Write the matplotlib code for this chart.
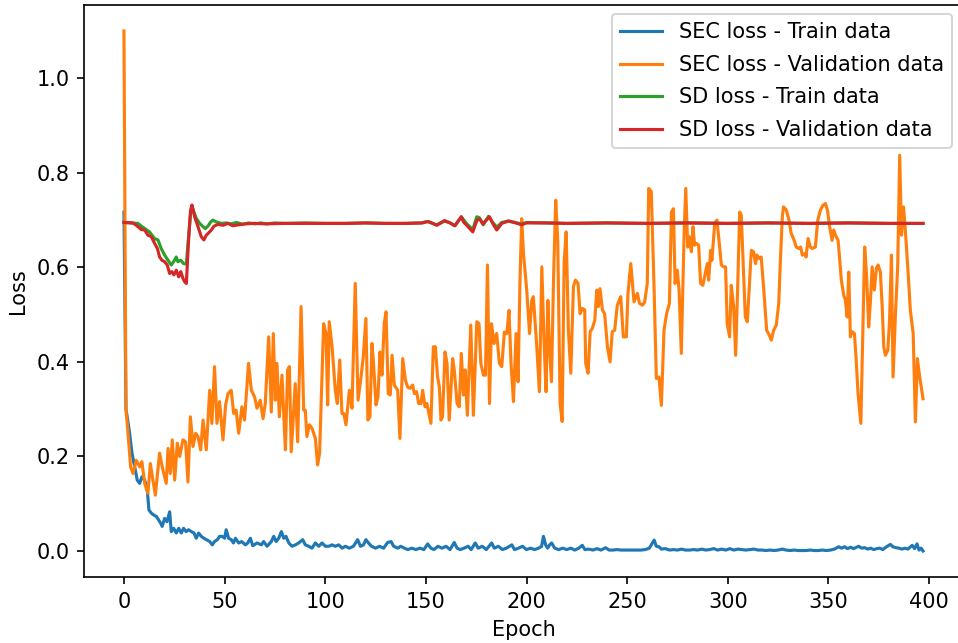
import matplotlib
matplotlib.use("Agg")
import matplotlib.pyplot as plt

# ---------------- data ----------------
sec_train_epoch = [0, 1.0, 1.6, 2.8, 4.0, 5.3, 6.6, 7.8, 8.9, 10.3, 11.6, 12.4, 13.6, 14.9, 16.1, 17.2, 18.2, 19.0,
    20.2, 21.4, 22.7, 23.5, 24.7, 26.0, 27.2, 28.5, 29.6, 30.9, 32.1, 33.5, 34.8, 35.9, 37.1, 38.4, 39.7, 40.9,
    42.6, 43.9, 45.0, 46.4, 47.5, 48.8, 50.0, 50.8, 52.0, 53.3, 54.4, 55.4, 57.0, 58.5, 60.3, 61.5, 62.8, 64.0,
    66.1, 68.3, 69.4, 71.1, 73.2, 74.4, 75.6, 76.9, 78.2, 79.4, 80.5, 81.9, 83.5, 85.2, 86.8, 88.8, 90.1, 91.8,
    93.4, 95.1, 96.8, 98.4, 100.1, 101.8, 103.4, 105.0, 106.7, 108.4, 110.0, 112, 114, 116.1, 117.5, 119, 120.2,
    121.5, 123, 125, 127, 129, 131, 132.7, 134, 136, 137.5, 139.3, 141, 143, 145, 147, 149, 150.9, 152.5, 154,
    156, 158, 160, 162, 164.1, 165.5, 167, 169, 171, 172.5, 174.5, 176, 178, 180, 182.7, 184, 186, 188, 190,
    192.7, 194, 196, 198, 200, 202, 204, 206, 207.5, 208.4, 209.5, 210.5, 211.5, 212.5, 214, 216, 218, 220,
    222, 224, 226, 227.7, 229, 231, 233, 235, 237, 239.3, 241, 243, 245, 247, 249, 251, 253, 255, 257, 259,
    261, 263.4, 264.5, 265.8, 267, 269, 271, 273, 275, 277, 279, 281, 283, 285, 287, 289, 291, 293, 295, 297,
    299, 301, 303, 305, 307, 309, 311, 313, 315, 317, 319, 321, 323, 325, 327, 329, 331, 333, 335, 337, 339,
    341, 343, 345, 347, 349, 351, 353, 355.1, 356.5, 358, 359.5, 361, 362.5, 364, 365, 366.5, 368, 369.5, 371,
    372.5, 374, 375.5, 377, 378.5, 380.8, 382, 383.5, 385, 386.5, 388, 389.5, 391.6, 392.8, 394, 395, 396, 397]
sec_train_loss = [0.717, 0.30, 0.284, 0.249, 0.207, 0.178, 0.150, 0.143, 0.157, 0.150, 0.129, 0.087, 0.080, 0.076,
    0.073, 0.066, 0.059, 0.052, 0.069, 0.062, 0.083, 0.041, 0.048, 0.038, 0.048, 0.038, 0.048, 0.041, 0.045,
    0.041, 0.038, 0.027, 0.038, 0.031, 0.027, 0.024, 0.020, 0.013, 0.020, 0.024, 0.031, 0.031, 0.027, 0.045,
    0.027, 0.024, 0.017, 0.027, 0.017, 0.020, 0.013, 0.017, 0.027, 0.011, 0.017, 0.013, 0.020, 0.010, 0.020,
    0.031, 0.020, 0.027, 0.041, 0.027, 0.031, 0.017, 0.010, 0.013, 0.017, 0.024, 0.013, 0.010, 0.006, 0.017,
    0.010, 0.017, 0.010, 0.010, 0.013, 0.010, 0.013, 0.006, 0.010, 0.006, 0.010, 0.024, 0.010, 0.013, 0.024,
    0.017, 0.010, 0.006, 0.010, 0.006, 0.018, 0.020, 0.010, 0.006, 0.010, 0.006, 0.003, 0.006, 0.003, 0.006,
    0.003, 0.015, 0.006, 0.003, 0.010, 0.006, 0.010, 0.003, 0.018, 0.006, 0.003, 0.006, 0.010, 0.003, 0.017,
    0.006, 0.010, 0.003, 0.017, 0.006, 0.010, 0.003, 0.006, 0.013, 0.003, 0.006, 0.010, 0.003, 0.006, 0.003,
    0.006, 0.010, 0.031, 0.013, 0.006, 0.013, 0.017, 0.006, 0.003, 0.006, 0.003, 0.006, 0.002, 0.006, 0.012,
    0.003, 0.004, 0.002, 0.005, 0.002, 0.007, 0.002, 0.002, 0.003, 0.002, 0.002, 0.002, 0.002, 0.002, 0.002,
    0.003, 0.006, 0.023, 0.010, 0.009, 0.004, 0.005, 0.002, 0.003, 0.002, 0.004, 0.002, 0.002, 0.003, 0.002,
    0.004, 0.002, 0.003, 0.005, 0.002, 0.004, 0.002, 0.005, 0.002, 0.004, 0.003, 0.002, 0.003, 0.004, 0.002,
    0.002, 0.001, 0.002, 0.001, 0.002, 0.004, 0.002, 0.001, 0.002, 0.001, 0.001, 0.001, 0.002, 0.001, 0.001,
    0.002, 0.001, 0.002, 0.004, 0.009, 0.006, 0.009, 0.005, 0.008, 0.005, 0.008, 0.010, 0.006, 0.007, 0.004,
    0.006, 0.003, 0.005, 0.006, 0.003, 0.008, 0.014, 0.009, 0.007, 0.006, 0.004, 0.006, 0.004, 0.012, 0.005,
    0.015, 0.002, 0.006, 0.000]

sec_val_epoch = [0, 1.0, 2.0, 3.3, 4.5, 6.1, 7.8, 8.9, 10.3, 11.9, 13.1, 14.4, 15.6, 17.7, 19.0, 21.0, 21.9, 23.0,
    24.0, 25.2, 26.5, 27.7, 29.3, 30.6, 31.8, 33.0, 34.3, 35.6, 36.8, 38.1, 39.3, 40.9, 42.6, 43.7, 45.0, 46.2,
    47.5, 49.2, 50.5, 51.7, 53.3, 54.5, 55.7, 57.0, 58.6, 59.9, 61.9, 63.3, 64.9, 66.1, 67.7, 69.1, 70.2, 71.9,
    73.2, 74.2, 75.2, 76.0, 77.2, 78.5, 80.2, 81.3, 82.2, 83.1, 85.1, 86.3, 88.0, 89.3, 90.1, 90.9, 92.1, 93.4,
    95.1, 96.2, 97.2, 99.2, 100.4, 101.2, 102.0, 103.4, 105.0, 106.0, 107.2, 108.3, 109.2, 110.3, 112.0, 113.3,
    114.9, 116.3, 117.8, 118.9, 120.2, 121.2, 122.2, 123.2, 124.0, 125.2, 126.2, 127.2, 128.2, 129.3, 130.2,
    131.3, 132.3, 133.2, 134.3, 136.0, 137.1, 138.5, 139.8, 140.9, 142.1, 143.4, 144.3, 145.4, 146.4, 147.6,
    148.4, 149.6, 150.5, 152.5, 153.7, 154.7, 155.8, 156.7, 157.5, 158.3, 159.5, 160.5, 161.6, 163.3, 164.1,
    165.5, 166.6, 167.6, 168.7, 169.5, 170.6, 172.3, 173.6, 175.3, 176.4, 177.3, 178.6, 179.6, 180.6, 181.6,
    182.6, 183.9, 185.2, 186.5, 187.7, 189.0, 190.2, 191.3, 192.3, 193.5, 194.8, 195.8, 196.8, 197.6, 198.5,
    200.1, 201.5, 202.6, 203.4, 205.1, 206.4, 207.6, 208.7, 209.7, 210.6, 211.4, 212.4, 213.4, 214.5, 215.5,
    216.7, 217.7, 218.7, 219.7, 220.8, 222.0, 223.3, 224.3, 225.6, 226.6, 227.7, 228.9, 229.4, 230.6, 231.6,
    232.7, 233.9, 234.9, 235.7, 236.5, 237.7, 238.8, 240.2, 241.5, 242.6, 243.8, 245.1, 246.8, 248.1, 249.6,
    250.4, 251.8, 253.4, 255.1, 256.1, 257.6, 258.7, 260.0, 260.7, 262.0, 263.4, 264.5, 265.8, 267.0, 268.3,
    269.6, 271.0, 272.0, 273.0, 273.8, 274.9, 275.8, 276.9, 278.3, 279.1, 280.1, 280.9, 281.9, 282.7, 283.5,
    284.3, 285.5, 286.5, 287.6, 288.8, 289.8, 290.5, 291.5, 292.1, 293.5, 294.6, 295.6, 296.8, 297.9, 298.9,
    299.7, 300.9, 301.7, 302.9, 303.9, 305.0, 305.9, 306.7, 307.5, 308.7, 309.7, 310.8, 311.7, 312.8, 313.8,
    314.5, 315.5, 316.6, 318.0, 319.3, 320.6, 321.6, 322.8, 324.1, 325.3, 326.2, 327.1, 327.7, 329.1, 330.4,
    331.5, 332.9, 334.0, 335.2, 336.2, 337.0, 338.2, 338.9, 339.9, 341.0, 341.9, 343.5, 344.7, 346.0, 347.2,
    348.5, 349.5, 350.5, 351.8, 352.6, 353.5, 354.8, 355.5, 356.4, 357.6, 358.4, 359.3, 360.1, 360.9, 361.7,
    362.9, 363.7, 364.7, 366.1, 367.0, 368.0, 368.9, 370.0, 370.9, 371.7, 372.8, 373.8, 374.7, 375.8, 376.7,
    377.5, 378.3, 379.5, 380.3, 381.3, 382.1, 383.3, 384.4, 385.4, 386.3, 387.3, 388.2, 389.6, 390.7, 392.1,
    393.2, 394.2, 395.2, 396.2, 397]
sec_val_loss = [1.10, 0.30, 0.25, 0.178, 0.164, 0.192, 0.178, 0.189, 0.143, 0.122, 0.185, 0.150, 0.118, 0.207,
    0.178, 0.143, 0.217, 0.164, 0.235, 0.150, 0.228, 0.200, 0.235, 0.231, 0.146, 0.284, 0.221, 0.249, 0.242,
    0.214, 0.277, 0.214, 0.340, 0.270, 0.390, 0.270, 0.316, 0.235, 0.309, 0.333, 0.340, 0.291, 0.298, 0.249,
    0.305, 0.277, 0.397, 0.340, 0.326, 0.302, 0.319, 0.280, 0.312, 0.453, 0.294, 0.460, 0.319, 0.397, 0.284,
    0.372, 0.214, 0.383, 0.390, 0.210, 0.354, 0.231, 0.517, 0.298, 0.298, 0.242, 0.267, 0.260, 0.238, 0.182,
    0.207, 0.481, 0.460, 0.309, 0.485, 0.432, 0.340, 0.312, 0.404, 0.291, 0.291, 0.267, 0.340, 0.302, 0.566,
    0.319, 0.369, 0.411, 0.492, 0.277, 0.284, 0.439, 0.397, 0.309, 0.326, 0.421, 0.372, 0.481, 0.506, 0.333,
    0.330, 0.414, 0.351, 0.340, 0.238, 0.407, 0.362, 0.347, 0.344, 0.351, 0.333, 0.337, 0.312, 0.312, 0.340,
    0.305, 0.312, 0.270, 0.432, 0.432, 0.369, 0.347, 0.277, 0.284, 0.421, 0.397, 0.277, 0.407, 0.383, 0.312,
    0.305, 0.418, 0.330, 0.383, 0.287, 0.478, 0.287, 0.485, 0.481, 0.397, 0.372, 0.372, 0.605, 0.312, 0.481,
    0.439, 0.460, 0.397, 0.390, 0.463, 0.460, 0.509, 0.397, 0.316, 0.460, 0.358, 0.580, 0.703, 0.629, 0.552,
    0.460, 0.530, 0.538, 0.432, 0.337, 0.601, 0.446, 0.337, 0.530, 0.432, 0.358, 0.573, 0.742, 0.658, 0.312,
    0.274, 0.612, 0.675, 0.467, 0.376, 0.559, 0.573, 0.566, 0.502, 0.513, 0.510, 0.397, 0.376, 0.464, 0.471,
    0.488, 0.552, 0.517, 0.555, 0.510, 0.502, 0.432, 0.400, 0.464, 0.467, 0.520, 0.538, 0.453, 0.453, 0.545,
    0.608, 0.527, 0.545, 0.524, 0.520, 0.527, 0.566, 0.767, 0.760, 0.552, 0.365, 0.368, 0.308, 0.467, 0.502,
    0.524, 0.717, 0.724, 0.566, 0.594, 0.552, 0.418, 0.672, 0.767, 0.643, 0.665, 0.633, 0.686, 0.647, 0.651,
    0.647, 0.566, 0.562, 0.587, 0.608, 0.573, 0.636, 0.615, 0.693, 0.700, 0.658, 0.605, 0.601, 0.601, 0.481,
    0.453, 0.562, 0.517, 0.414, 0.573, 0.717, 0.710, 0.622, 0.495, 0.485, 0.566, 0.636, 0.633, 0.608, 0.626,
    0.619, 0.622, 0.545, 0.467, 0.457, 0.446, 0.467, 0.478, 0.524, 0.622, 0.707, 0.728, 0.721, 0.700, 0.672,
    0.658, 0.643, 0.640, 0.643, 0.626, 0.629, 0.622, 0.661, 0.643, 0.640, 0.643, 0.700, 0.721, 0.731, 0.735,
    0.721, 0.689, 0.657, 0.679, 0.668, 0.657, 0.622, 0.573, 0.541, 0.531, 0.495, 0.590, 0.453, 0.464, 0.460,
    0.411, 0.333, 0.270, 0.446, 0.643, 0.587, 0.474, 0.531, 0.601, 0.552, 0.598, 0.605, 0.590, 0.517, 0.432,
    0.414, 0.425, 0.481, 0.626, 0.368, 0.502, 0.601, 0.837, 0.668, 0.728, 0.679, 0.587, 0.509, 0.460, 0.273,
    0.407, 0.372, 0.344, 0.322]

sd_train_epoch = [0, 6.9, 10.3, 12.7, 15.2, 16.9, 18.5, 20.2, 21.9, 23.5, 24.7, 26.0, 26.8, 28.2, 29.6, 31.0, 32.1,
    33.1, 34.1, 35.9, 37.6, 39.3, 40.4, 41.7, 43.1, 44.2, 45.9, 48.4, 50.8, 53, 56, 59, 62, 65, 68, 71, 75, 80,
    90, 100, 110, 120, 130, 140, 148, 151, 153.4, 155.4, 157.5, 159.3, 162, 164.5, 167.6, 170.3, 173.3, 175.3,
    176.6, 178.5, 181.1, 183.2, 185.2, 187.7, 191, 194, 197.6, 200, 210, 220, 240, 260, 280, 300, 320, 340,
    360, 380, 397]
sd_train_loss = [0.695, 0.693, 0.682, 0.675, 0.661, 0.658, 0.640, 0.626, 0.615, 0.605, 0.612, 0.622, 0.612, 0.615,
    0.608, 0.607, 0.665, 0.714, 0.725, 0.704, 0.693, 0.686, 0.682, 0.687, 0.696, 0.700, 0.696, 0.693, 0.694,
    0.692, 0.695, 0.691, 0.694, 0.692, 0.694, 0.692, 0.694, 0.693, 0.694, 0.693, 0.693, 0.694, 0.693, 0.693,
    0.694, 0.697, 0.693, 0.690, 0.695, 0.698, 0.694, 0.688, 0.707, 0.692, 0.680, 0.707, 0.705, 0.690, 0.708,
    0.695, 0.685, 0.695, 0.698, 0.695, 0.692, 0.695, 0.694, 0.693, 0.694, 0.693, 0.694, 0.693, 0.694, 0.693,
    0.694, 0.693, 0.693]

sd_val_epoch = [0, 4.5, 6.1, 8.6, 10.3, 11.9, 13.6, 15.2, 16.6, 17.7, 18.9, 20.2, 21.5, 22.7, 23.8, 24.8, 26.0,
    27.2, 28.2, 29.3, 30.1, 31.0, 32.1, 33.1, 33.8, 35.1, 36.8, 38.4, 39.7, 40.9, 42.1, 43.4, 44.7, 46.7, 49.2,
    51.7, 54, 57, 60, 65, 70, 80, 90, 100, 110, 120, 130, 140, 148, 150.9, 153.4, 155.4, 157.5, 159.3, 162,
    164.3, 167.6, 168.7, 170.3, 173.3, 175.3, 176.6, 178.3, 181.6, 183.2, 185.2, 187.7, 191, 194, 197.6, 200,
    210, 220, 240, 260, 280, 300, 320, 340, 360, 380, 397]
sd_val_loss = [0.695, 0.694, 0.689, 0.680, 0.679, 0.668, 0.665, 0.651, 0.640, 0.622, 0.615, 0.612, 0.605, 0.587,
    0.591, 0.584, 0.594, 0.580, 0.591, 0.577, 0.570, 0.566, 0.657, 0.721, 0.732, 0.707, 0.686, 0.665, 0.658,
    0.668, 0.673, 0.679, 0.687, 0.691, 0.689, 0.693, 0.688, 0.690, 0.692, 0.693, 0.692, 0.693, 0.693, 0.693,
    0.693, 0.694, 0.693, 0.693, 0.694, 0.697, 0.693, 0.689, 0.694, 0.699, 0.694, 0.688, 0.707, 0.696, 0.689,
    0.675, 0.699, 0.703, 0.692, 0.707, 0.693, 0.679, 0.693, 0.698, 0.695, 0.690, 0.694, 0.694, 0.693, 0.694,
    0.693, 0.694, 0.693, 0.694, 0.693, 0.694, 0.693, 0.693]

labels = ["SEC loss - Train data", "SEC loss - Validation data",
          "SD loss - Train data", "SD loss - Validation data"]

# ---------------- figure ----------------
fig = plt.figure(figsize=(958 / 150, 643 / 150), dpi=150)
ax = fig.add_axes([84 / 958, (643 - 577) / 643, (963 - 84) / 958, (577 - 5) / 643])

ax.plot(sec_train_epoch, sec_train_loss, color="#1f77b4", label=labels[0])
ax.plot(sec_val_epoch, sec_val_loss, color="#ff7f0e", label=labels[1])
ax.plot(sd_train_epoch, sd_train_loss, color="#2ca02c", label=labels[2])
ax.plot(sd_val_epoch, sd_val_loss, color="#d62728", label=labels[3])

ax.set_xlabel("Epoch")
ax.set_ylabel("Loss")
ax.legend(loc="upper right", bbox_to_anchor=(952 / 958, 1 - 14 / 643),
          bbox_transform=fig.transFigure, borderaxespad=0, labelspacing=0.6)

fig.savefig("out.png", dpi=150)
